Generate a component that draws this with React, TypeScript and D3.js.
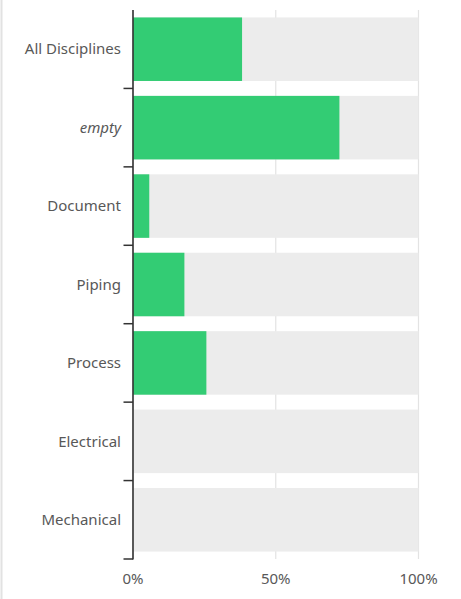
import React from "react";
import * as d3 from "d3";

const categories = ["All Disciplines", "empty", "Document", "Piping", "Process", "Electrical", "Mechanical"];
const values = [38.2, 72.3, 5.7, 18.0, 25.7, 0, 0];
const xTicks = [0, 50, 100];

export default function App() {
  const W = 461, H = 599;
  const x = d3.scaleLinear().domain([0, 100]).range([133, 418.5]);
  const y = d3.scaleBand<string>().domain(categories).range([10, 559]).paddingInner(0.19).paddingOuter(0.095);
  const step = y.step();
  const font = "'Noto Sans', 'Open Sans', sans-serif";
  return (
    <svg width={W} height={H} style={{ position: "absolute", left: 0, top: 0, background: "#fff" }}>
      <line x1={1.5} x2={1.5} y1={0} y2={H} stroke="#e2e2e2" strokeWidth={2} />
      {xTicks.map((t) => (
        <line key={"g" + t} x1={x(t)} x2={x(t)} y1={10} y2={559} stroke="#e3e3e3" strokeWidth={1.2} />
      ))}
      {categories.map((c, i) => (
        <g key={c}>
          <rect x={x(0)} y={y(c)} width={x(100) - x(0)} height={y.bandwidth()} fill="#ececec" />
          <rect x={x(0)} y={y(c)} width={x(values[i]) - x(0)} height={y.bandwidth()} fill="#33cc74" />
          <text
            x={121}
            y={(y(c) as number) + y.bandwidth() / 2}
            dy="0.35em"
            textAnchor="end"
            fontFamily={font}
            fontSize={15}
            fill="#585858"
            fontStyle={c === "empty" ? "italic" : "normal"}
          >
            {c}
          </text>
          <line x1={123.5} x2={133} y1={10 + step * (i + 1)} y2={10 + step * (i + 1)} stroke="#333" strokeWidth={1.5} />
        </g>
      ))}
      <line x1={133} x2={133} y1={10} y2={559.5} stroke="#333" strokeWidth={1.6} />
      {xTicks.map((t) => (
        <text key={"t" + t} x={x(t)} y={584} textAnchor="middle" fontFamily={font} fontSize={15} fill="#585858">
          {t + "%"}
        </text>
      ))}
    </svg>
  );
}
